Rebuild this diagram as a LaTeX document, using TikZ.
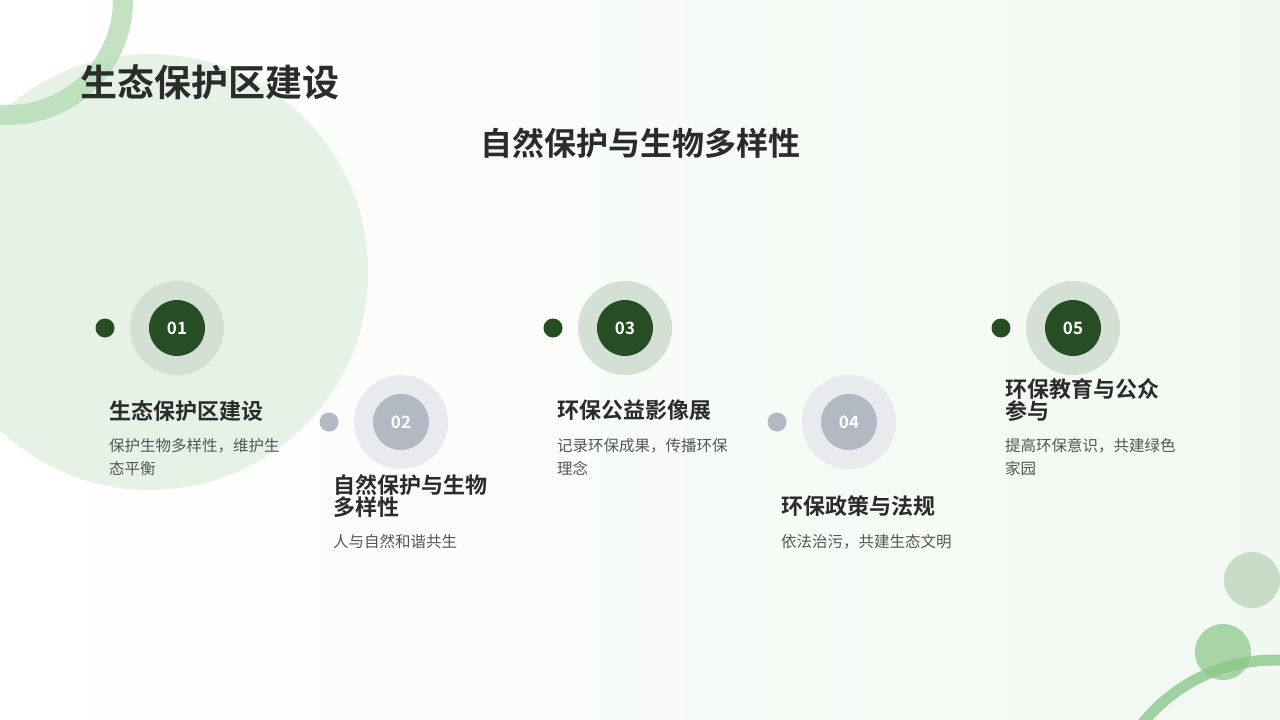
\documentclass[tikz,border=0pt]{standalone}
\usepackage{fontspec}
\setmainfont{Noto Sans CJK SC}
\newfontfamily\cjkb{Noto Sans CJK SC Bold}
\usetikzlibrary{calc}
\definecolor{dg}{HTML}{264D23}
\definecolor{halo1}{HTML}{D5E0D5}
\definecolor{gy}{HTML}{B3B9C3}
\definecolor{halo2}{HTML}{E8EAEE}
\definecolor{txt}{HTML}{2B2B2B}
\definecolor{desc}{HTML}{555555}
\definecolor{bgr}{RGB}{241,248,241}
\definecolor{bigc}{RGB}{230,242,230}
\definecolor{ringa}{RGB}{180,220,180}
\definecolor{cb1}{RGB}{200,220,200}
\definecolor{cb2}{RGB}{150,205,150}
\definecolor{ringb}{RGB}{140,200,140}
\tikzset{
 ttl/.style={anchor=north west,align=left,font=\cjkb\fontsize{22}{22}\selectfont,text=txt,inner sep=0},
 dsc/.style={anchor=north west,align=left,font=\fontsize{15.5}{23}\selectfont,text=desc,inner sep=0},
 num/.style={font=\cjkb\fontsize{17}{17}\selectfont,text=white}
}
\begin{document}
\begin{tikzpicture}[x=1pt,y=-1pt]
\useasboundingbox (0,0) rectangle (1280,720);
\shade[left color=white,right color=bgr] (0,0) rectangle (1280,720);
% decorations
\fill[bigc] (150,272) circle (218);
\draw[line width=20pt,ringa,opacity=0.8] (8,0) circle (115);
\fill[cb1] (1252,580) circle (28);
\fill[cb2,opacity=0.8] (1223,652) circle (28);
\draw[line width=11pt,ringb,opacity=0.8] (1275,830) circle (170);
% titles
\node[anchor=west,inner sep=0,font=\cjkb\fontsize{37}{37}\selectfont,text=txt] (t) at (80,82) {生态保护区建设};
\node[inner sep=0,font=\cjkb\fontsize{32}{32}\selectfont,text=txt] (st) at (640,143) {自然保护与生物多样性};
% steps
\foreach \n/\x/\y/\c/\h/\tt/\ty/\dd/\dy in {
 01/177/328/dg/halo1/{生态保护区建设}/400/{保护生物多样性，维护生\\态平衡}/438,
 02/401/422/gy/halo2/{自然保护与生物\\多样性}/474/{人与自然和谐共生}/534,
 03/625/328/dg/halo1/{环保公益影像展}/400/{记录环保成果，传播环保\\理念}/438,
 04/849/422/gy/halo2/{环保政策与法规}/495/{依法治污，共建生态文明}/534,
 05/1073/328/dg/halo1/{环保教育与公众\\参与}/378/{提高环保意识，共建绿色\\家园}/438}{
 \fill[\c] (\x-72,\y) circle (9.5) coordinate (dot\n);
 \fill[\h] (\x,\y) circle (47);
 \node[circle,fill=\c,minimum size=56pt,num] (c\n) at (\x,\y) {\n};
 \node[ttl] (tt\n) at (\x-68,\ty) {\tt};
 \node[dsc] (d\n) at (\x-68,\dy) {\dd};
}
\end{tikzpicture}
\end{document}
